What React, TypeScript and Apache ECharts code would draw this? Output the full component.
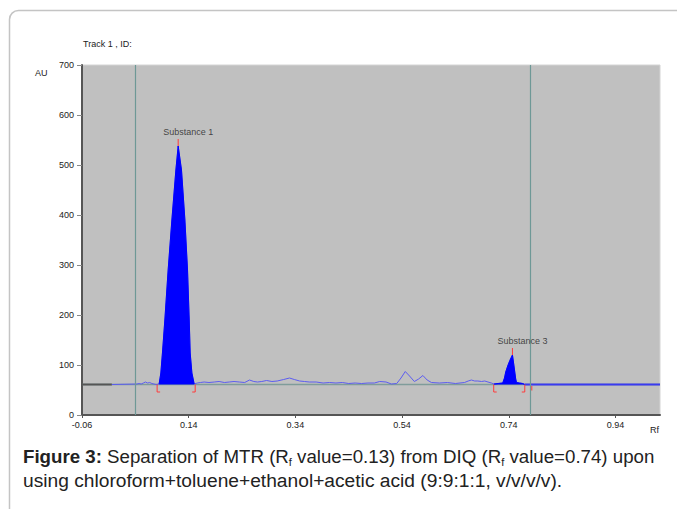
import React, { useEffect, useRef } from "react";
import * as echarts from "echarts";

// ---- data ----
const xTickValues = [-0.06, 0.14, 0.34, 0.54, 0.74, 0.94];
const X_MIN = -0.06;
const X_MAX = 1.0235;
const Y_MIN = 0;
const Y_MAX = 700;
const BASELINE = 61;

// noise trace (Rf, AU)
const traceX = [
  -0.004, 0.043, 0.047, 0.051, 0.055, 0.059, 0.063, 0.067, 0.071, 0.075, 0.079, 0.0846,
  0.0878, 0.0908, 0.0953, 0.1015, 0.1085, 0.116, 0.1203, 0.1265, 0.1329, 0.1378, 0.141, 0.1428, 0.146, 0.1503,
  0.156, 0.162, 0.169, 0.178, 0.188, 0.197, 0.207, 0.216, 0.225, 0.235, 0.245, 0.254, 0.262, 0.269,
  0.277, 0.286, 0.296, 0.306, 0.318, 0.329, 0.338, 0.348, 0.357, 0.366, 0.379, 0.392, 0.404, 0.416,
  0.428, 0.44, 0.452, 0.464, 0.476, 0.488, 0.498, 0.51, 0.52, 0.53, 0.538, 0.546, 0.554, 0.563,
  0.571, 0.579, 0.587, 0.595, 0.61, 0.625, 0.64, 0.657, 0.664, 0.67, 0.676, 0.682, 0.689, 0.695,
  0.701, 0.7075, 0.712, 0.72, 0.7287, 0.732, 0.7343, 0.738, 0.742, 0.7469, 0.749, 0.751, 0.753, 0.7545,
  0.76, 0.766, 0.77,
];
const traceY = [
  61, 62, 63, 62, 64, 66, 64, 65, 63, 62, 61, 62,
  84, 124, 190, 290, 390, 490, 538, 490, 390, 290, 190, 124, 84, 62,
  64, 65, 66, 65, 66, 67, 65, 66, 67, 66, 65, 70, 67, 66,
  67, 69, 67, 68, 71, 74, 71, 68, 67, 66, 66, 64, 65, 64,
  65, 63, 64, 63, 64, 64, 67, 66, 62, 63, 74, 87, 78, 67,
  72, 79, 70, 65, 64, 65, 63, 65, 68, 70, 68, 68, 67, 68,
  66, 64, 62, 63, 64, 74, 86, 98, 109, 120, 104, 88, 72, 65,
  64, 63, 61,
];

// integrated peak windows (bracket positions, Rf)
const peakStart = [0.0808, 0.7118];
const peakEnd = [0.1522, 0.77];
const peakApexX = [0.1203, 0.7469];
const peakApexY = [538, 120];
const peakNames = ["Substance 1", "Substance 3"];

// flat detector line after the last track line
const flatX = [0.77, 1.0235];
const flatY = [61, 61];

// track limit lines
const trackLines = [0.0427, 0.783];
const extraRedMark = [0.7832];

const FONT = '"Liberation Sans", Arial, sans-serif';

export default function App() {
  const ref = useRef<HTMLDivElement>(null);

  useEffect(() => {
    if (!ref.current) return;
    const chart = echarts.init(ref.current, undefined, { renderer: "svg" });

    const trace = traceX.map((x, i) => [x, traceY[i]]);
    const peakSeries = peakStart.map((s, k) => ({
      type: "line",
      data: trace.filter((p) => p[0] >= s - 1e-9 && p[0] <= peakEnd[k] + 1e-9),
      symbol: "none",
      lineStyle: { color: "#0000ff", width: 1 },
      areaStyle: { color: "#0000ff", opacity: 1, origin: BASELINE },
      z: 4,
      silent: true,
    }));

    const bracketSeries: any[] = [];
    const depth = 15;
    const foot = 0.0056;
    peakStart.forEach((s, k) => {
      const e = peakEnd[k];
      bracketSeries.push({
        type: "line",
        data: [[s, BASELINE], [s, BASELINE - depth], [s + foot, BASELINE - depth]],
        symbol: "none",
        lineStyle: { color: "#ff3b3b", width: 1 },
        z: 6,
        silent: true,
      });
      bracketSeries.push({
        type: "line",
        data: [[e, BASELINE], [e, BASELINE - depth], [e - foot, BASELINE - depth]],
        symbol: "none",
        lineStyle: { color: "#ff3b3b", width: 1 },
        z: 6,
        silent: true,
      });
      bracketSeries.push({
        type: "line",
        data: [[peakApexX[k], peakApexY[k]], [peakApexX[k], peakApexY[k] + 14]],
        symbol: "none",
        lineStyle: { color: "#ff3b3b", width: 1 },
        z: 6,
        silent: true,
      });
    });
    extraRedMark.forEach((x) => {
      bracketSeries.push({
        type: "line",
        data: [[x, BASELINE - 3], [x, BASELINE - 12]],
        symbol: "none",
        lineStyle: { color: "#ff3b3b", width: 1 },
        z: 6,
        silent: true,
      });
    });

    const option: any = {
      animation: false,
      textStyle: { fontFamily: FONT },
      grid: {
        left: 82,
        right: 17,
        top: 65,
        bottom: 94,
        show: true,
        backgroundColor: "#c0c0c0",
        borderColor: "#d4d4d4",
        borderWidth: 1,
      },
      xAxis: {
        type: "value",
        min: X_MIN,
        max: X_MAX,
        splitLine: { show: false },
        axisLine: { show: true, onZero: false, lineStyle: { color: "#555", width: 2 } },
        axisTick: { show: true, customValues: xTickValues, length: 3, lineStyle: { color: "#555" } },
        axisLabel: {
          customValues: xTickValues,
          formatter: (v: number) => v.toFixed(2),
          fontSize: 9,
          color: "#222",
          margin: 5,
          fontFamily: FONT,
        },
      },
      yAxis: {
        type: "value",
        min: Y_MIN,
        max: Y_MAX,
        interval: 100,
        splitLine: { show: false },
        axisLine: { show: true, onZero: false, lineStyle: { color: "#555", width: 2 } },
        axisTick: { show: true, length: 5, lineStyle: { color: "#888" } },
        axisLabel: { fontSize: 9, color: "#222", margin: 8, fontFamily: FONT },
      },
      series: [
        {
          type: "line",
          data: [[X_MIN, BASELINE], [X_MAX, BASELINE]],
          symbol: "none",
          lineStyle: { color: "#7f9c9a", width: 1.5 },
          z: 2,
          silent: true,
          markLine: {
            silent: true,
            symbol: "none",
            label: { show: false },
            lineStyle: { color: "#6e9896", width: 1.2, type: "solid" },
            data: trackLines.map((x) => ({ xAxis: x })),
          },
        },
        {
          type: "line",
          data: [[X_MIN, BASELINE], [traceX[0], BASELINE]],
          symbol: "none",
          lineStyle: { color: "#555", width: 2 },
          z: 3,
          silent: true,
        },
        {
          type: "line",
          data: trace,
          symbol: "none",
          lineStyle: { color: "#5c5cf0", width: 1 },
          z: 3,
          silent: true,
        },
        ...peakSeries,
        {
          type: "line",
          data: flatX.map((x, i) => [x, flatY[i]]),
          symbol: "none",
          lineStyle: { color: "#3a3af0", width: 2 },
          z: 3,
          silent: true,
        },
        ...bracketSeries,
        {
          type: "scatter",
          data: peakApexX.map((x, i) => ({ value: [x, peakApexY[i] + 14], name: peakNames[i] })),
          symbolSize: 0,
          silent: true,
          z: 7,
          label: {
            show: true,
            position: "top",
            distance: 3,
            offset: [10, 0],
            formatter: (p: any) => p.name,
            fontSize: 9,
            color: "#222",
            fontFamily: FONT,
          },
        },
      ],
      graphic: [
        {
          type: "rect",
          shape: { x: 9.5, y: 10.5, width: 720, height: 540, r: 9 },
          style: { fill: "none", stroke: "#c4c4c4", lineWidth: 1.5 },
          silent: true,
          z: -10,
        },
        {
          type: "text",
          x: 83,
          y: 39,
          style: { text: "Track 1 , ID:", fontSize: 9, fill: "#222", fontFamily: FONT },
        },
        {
          type: "text",
          x: 35,
          y: 68,
          style: { text: "AU", fontSize: 9, fill: "#222", fontFamily: FONT },
        },
        {
          type: "text",
          x: 650,
          y: 425,
          style: { text: "Rf", fontSize: 9, fill: "#222", fontFamily: FONT },
        },
        {
          type: "text",
          x: 23,
          y: 445,
          style: {
            text:
              "{b|Figure 3:}{n| Separation of MTR (R}{s|f}{n| value=0.13) from DIQ (R}{s|f}{n| value=0.74) upon}",
            fontFamily: FONT,
            fill: "#222",
            rich: {
              b: { fontWeight: "bold", fontSize: 18.7, fill: "#222", lineHeight: 22, fontFamily: FONT },
              n: { fontSize: 18.7, fill: "#222", lineHeight: 22, fontFamily: FONT },
              s: { fontSize: 11, fill: "#222", lineHeight: 22, verticalAlign: "bottom", fontFamily: FONT },
            },
          },
        },
        {
          type: "text",
          x: 23,
          y: 469,
          style: {
            text: "using chloroform+toluene+ethanol+acetic acid (9:9:1:1, v/v/v/v).",
            fontSize: 19.2,
            lineHeight: 22,
            fill: "#222",
            fontFamily: FONT,
          },
        },
      ],
    };

    chart.setOption(option);
    return () => chart.dispose();
  }, []);

  return (
    <div
      ref={ref}
      style={{ position: "absolute", left: 0, top: 0, width: 677, height: 509, background: "#fff" }}
    />
  );
}
